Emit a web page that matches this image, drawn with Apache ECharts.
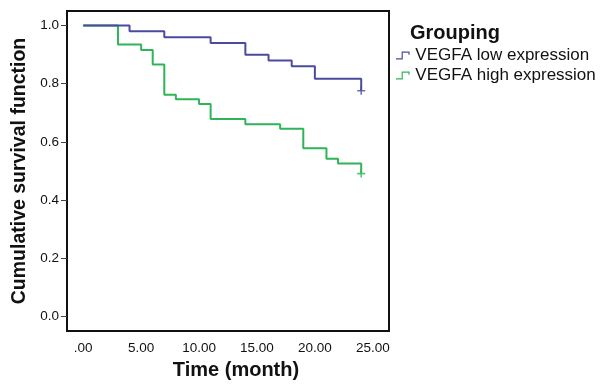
<!DOCTYPE html>
<html>
<head>
<meta charset="utf-8">
<script src="https://cdn.jsdelivr.net/npm/echarts@6/dist/echarts.min.js"></script>
<style>
html,body{margin:0;padding:0;background:#fff;}
#chart{width:614px;height:385px;}
</style>
</head>
<body>
<div id="chart"></div>
<script>
// Kaplan-Meier step data: [time (month), cumulative survival]
var lowTimes = [0, 4, 7, 11, 14, 16, 18, 20, 24];
var lowSurv  = [1.0, 0.98, 0.96, 0.94, 0.90, 0.88, 0.86, 0.817, 0.776];
var highTimes = [0, 3, 5, 6, 7, 8, 10, 11, 14, 17, 19, 21, 22, 24];
var highSurv  = [1.0, 0.935, 0.916, 0.866, 0.762, 0.747, 0.730, 0.679, 0.661, 0.645, 0.578, 0.542, 0.526, 0.491];
// censored observations
var lowCensor = [[24, 0.776]];
var highCensor = [[24, 0.491]];

var seriesNames = ['VEGFA low expression', 'VEGFA high expression'];
var xTickValues = [0, 5, 10, 15, 20, 25];
var xTickLabels = ['.00', '5.00', '10.00', '15.00', '20.00', '25.00'];
var yTickValues = [0, 0.2, 0.4, 0.6, 0.8, 1.0];
var yTickLabels = ['0.0', '0.2', '0.4', '0.6', '0.8', '1.0'];

var blue = '#4b4b9e';
var green = '#2fb457';

function pairs(t, s) { return t.map(function (v, i) { return [v, s[i]]; }); }

var plusPath = 'path://M4,0 H6 V4 H10 V6 H6 V10 H4 V6 H0 V4 H4 Z';
var stepIcon = 'path://M0,8.5 H7 V0 H17 V4 H15.5 V1.5 H8.5 V10 H0 Z';
var font = 'Liberation Sans, Arial, sans-serif';

var chart = echarts.init(document.getElementById('chart'), null, {renderer: 'canvas'});
chart.setOption({
  animation: false,
  backgroundColor: '#fff',
  textStyle: {fontFamily: font},
  title: {
    text: 'Grouping',
    left: 405, top: 18,
    textStyle: {fontSize: 20, fontWeight: 'bold', color: '#111', fontFamily: font}
  },
  legend: {
    orient: 'vertical',
    left: 391, top: 42,
    itemWidth: 17, itemHeight: 8, itemGap: 3,
    data: [
      {name: seriesNames[0], icon: stepIcon, itemStyle: {color: blue}},
      {name: seriesNames[1], icon: stepIcon, itemStyle: {color: green}}
    ],
    textStyle: {fontSize: 17, color: '#111', padding: [0, 0, 0, -1]}
  },
  grid: {
    left: 67, right: 225, top: 11, bottom: 54,
    show: true, borderColor: '#111', borderWidth: 2, backgroundColor: '#fff'
  },
  xAxis: {
    type: 'value', min: -1.4, max: 26.4,
    name: 'Time (month)', nameLocation: 'middle', nameGap: 29,
    nameTextStyle: {fontSize: 20, fontWeight: 'bold', color: '#111', padding: [0, 0, 0, 16]},
    axisLine: {show: false, onZero: false},
    axisTick: {show: false},
    splitLine: {show: false},
    axisLabel: {
      customValues: xTickValues, margin: 10, fontSize: 13.5, color: '#111',
      formatter: function (v) { var i = xTickValues.indexOf(v); return i >= 0 ? xTickLabels[i] : ''; }
    }
  },
  yAxis: {
    type: 'value', min: -0.05, max: 1.05,
    name: 'Cumulative survival function', nameLocation: 'middle', nameGap: 34,
    nameTextStyle: {fontSize: 19.5, fontWeight: 'bold', color: '#111'},
    axisLine: {show: false, onZero: false},
    axisTick: {show: true, customValues: yTickValues, length: 6, lineStyle: {color: '#444', width: 1}},
    splitLine: {show: false},
    axisLabel: {
      customValues: yTickValues, margin: 8, fontSize: 13.5, color: '#111',
      formatter: function (v) { var i = yTickValues.indexOf(v); return i >= 0 ? yTickLabels[i] : ''; }
    }
  },
  series: [
    {
      name: seriesNames[0], type: 'line', step: 'end', showSymbol: false, symbol: 'none',
      data: pairs(lowTimes, lowSurv), lineStyle: {color: blue, width: 2}, itemStyle: {color: blue}, z: 3
    },
    {
      name: seriesNames[1], type: 'line', step: 'end', showSymbol: false, symbol: 'none',
      data: pairs(highTimes, highSurv), lineStyle: {color: green, width: 2}, itemStyle: {color: green}, z: 2
    },
    {
      name: seriesNames[0], type: 'scatter', symbol: plusPath, symbolSize: 8,
      data: lowCensor, itemStyle: {color: blue}, z: 4
    },
    {
      name: seriesNames[1], type: 'scatter', symbol: plusPath, symbolSize: 8,
      data: highCensor, itemStyle: {color: green}, z: 4
    }
  ]
});
</script>
</body>
</html>
